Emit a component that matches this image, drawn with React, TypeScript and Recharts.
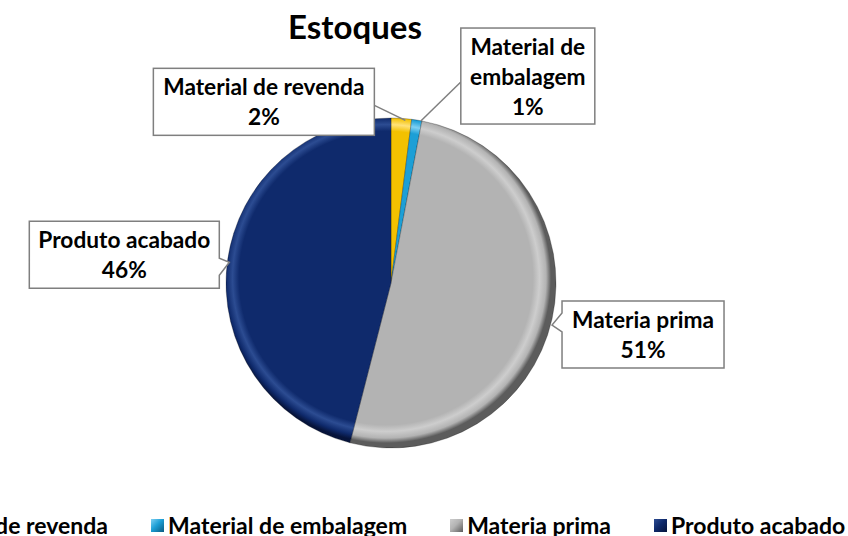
import React from 'react'
import { PieChart, Pie, Cell, Legend } from 'recharts'

// Estoques: share of each inventory group (%)
const categories = ['Material de revenda', 'Material de embalagem', 'Materia prima', 'Produto acabado']
const shares = [2, 1, 51, 46]
const labelText = [['Material de revenda'], ['Material de', 'embalagem'], ['Materia prima'], ['Produto acabado']]

const data = categories.map((name, i) => ({ name, value: shares[i] }))

const W = 848
const H = 536
const CX = 386
const CY = 278
const R = 165
const FONT = 'Lato, "Open Sans", sans-serif'
const RAD = Math.PI / 180

// body, rim highlight, rim shadow
const colors = [
  { id: 'gRev', body: '#f3c100', light: '#ffe27a', dark: '#9a7400' },
  { id: 'gEmb', body: '#1d9fd6', light: '#7fd0f2', dark: '#0a5a80' },
  { id: 'gMat', body: '#b3b3b3', light: '#cdcdcd', dark: '#5c5c5c' },
  { id: 'gPro', body: '#0f2a6c', light: '#2c4c92', dark: '#06133a' },
]

// callout boxes placed relative to the slice's edge point
const callouts = [
  { dx: -248, dy: -50, w: 221, h: 67, kind: 'line', fx: 221, fy: 37, tx: 4, ty: 2 },
  { dx: 44, dy: -92, w: 134, h: 96, kind: 'line', fx: 0, fy: 54, tx: 4, ty: 1 },
  { dx: 10, dy: -18, w: 162, h: 67, kind: 'left', y1: 12, y2: 31, tx: 0, ty: 6 },
  { dx: -198, dy: -41, w: 190, h: 67, kind: 'right', y1: 37, y2: 54, tx: 2, ty: 0 },
]

const renderCallout = (props: any) => {
  const { cx, cy, midAngle, outerRadius, index, percent } = props
  const ax = cx + outerRadius * Math.cos(-midAngle * RAD)
  const ay = cy + outerRadius * Math.sin(-midAngle * RAD)
  const c = callouts[index]
  const x = ax + c.dx
  const y = ay + c.dy
  const tipX = ax + c.tx
  const tipY = ay + c.ty
  let shape: React.ReactNode
  if (c.kind === 'left') {
    const d = `M${x},${y} H${x + c.w} V${y + c.h} H${x} V${y + c.y2} L${tipX},${tipY} L${x},${y + c.y1} Z`
    shape = <path d={d} fill="#fff" stroke="#7f7f7f" strokeWidth={1.5} />
  } else if (c.kind === 'right') {
    const d = `M${x},${y} H${x + c.w} V${y + c.y1} L${tipX},${tipY} L${x + c.w},${y + c.y2} V${y + c.h} H${x} Z`
    shape = <path d={d} fill="#fff" stroke="#7f7f7f" strokeWidth={1.5} />
  } else {
    shape = (
      <g>
        <line x1={x + c.fx} y1={y + c.fy} x2={tipX} y2={tipY} stroke="#7f7f7f" strokeWidth={1.5} />
        <rect x={x} y={y} width={c.w} height={c.h} fill="#fff" stroke="#7f7f7f" strokeWidth={1.5} />
      </g>
    )
  }
  const lines = [...labelText[index], `${Math.round(percent * 100)}%`]
  const step = 30
  const top = y + c.h / 2 - ((lines.length - 1) * step) / 2
  return (
    <g key={`callout-${index}`}>
      {shape}
      {lines.map((t, i) => (
        <text
          key={i}
          x={x + c.w / 2}
          y={top + i * step}
          textAnchor="middle"
          dominantBaseline="central"
          fontFamily={FONT}
          fontWeight={700}
          fontSize={22.7}
          fill="#000"
        >
          {t}
        </text>
      ))}
    </g>
  )
}

const renderLegend = () => (
  <div style={{ display: 'flex', alignItems: 'center', whiteSpace: 'nowrap', fontFamily: FONT, fontWeight: 700, fontSize: 23, color: '#000' }}>
    {categories.map((name, i) => (
      <div key={name} style={{ display: 'flex', alignItems: 'center', marginRight: 43 }}>
        <span
          style={{
            display: 'inline-block',
            width: 13,
            height: 13,
            marginRight: 4,
            background: `linear-gradient(135deg, ${colors[i].light}, ${colors[i].body} 45%, ${colors[i].dark})`,
          }}
        />
        <span>{name}</span>
      </div>
    ))}
  </div>
)

export default function App() {
  return (
    <div style={{ position: 'absolute', left: 0, top: 0, width: W, height: H, overflow: 'hidden', background: '#fff' }}>
      <div
        style={{
          position: 'absolute',
          left: 0,
          top: 8,
          width: 710,
          textAlign: 'center',
          fontFamily: FONT,
          fontWeight: 700,
          fontSize: 33,
          lineHeight: '36px',
          color: '#000',
          zIndex: 2,
        }}
      >
        Estoques
      </div>
      <PieChart width={W} height={H}>
        <defs>
          {colors.map((c) => (
            <radialGradient key={c.id} id={c.id} gradientUnits="userSpaceOnUse" cx={CX} cy={CY} r={R}>
              <stop offset="0%" stopColor={c.body} />
              <stop offset="89%" stopColor={c.body} />
              <stop offset="93%" stopColor={c.light} />
              <stop offset="97%" stopColor={c.body} />
              <stop offset="100%" stopColor={c.dark} />
            </radialGradient>
          ))}
        </defs>
        <Pie
          data={data}
          dataKey="value"
          nameKey="name"
          cx={CX}
          cy={CY}
          outerRadius={R}
          startAngle={90}
          endAngle={-270}
          label={renderCallout}
          labelLine={false}
          isAnimationActive={false}
          stroke="rgba(0,0,0,0.25)"
          strokeWidth={1}
        >
          {data.map((d, i) => (
            <Cell key={d.name} fill={`url(#${colors[i].id})`} />
          ))}
        </Pie>
        <Legend
          content={renderLegend}
          wrapperStyle={{ left: -113, top: 511, bottom: 'auto', width: 1100 }}
        />
      </PieChart>
    </div>
  )
}
